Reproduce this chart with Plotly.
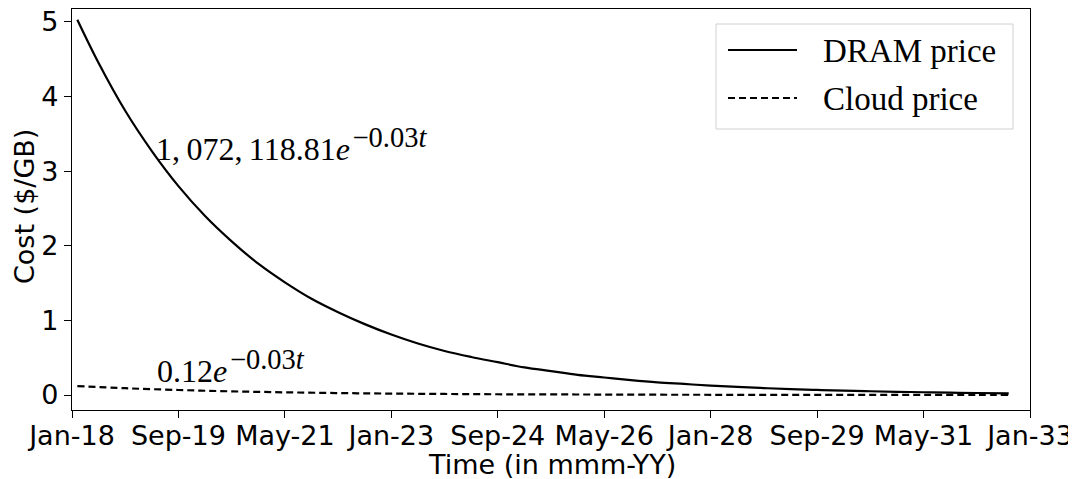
import plotly.graph_objects as go

# ---- data (months since Jan-18) ----
tick_months = [0, 20, 40, 60, 80, 100, 120, 140, 160, 180]
tick_labels = ["Jan-18", "Sep-19", "May-21", "Jan-23", "Sep-24",
               "May-26", "Jan-28", "Sep-29", "May-31", "Jan-33"]

dram_months = [1, 5, 10, 15, 20, 25, 30, 35, 40, 45, 50, 55, 60, 65, 70, 75, 80,
               85, 90, 95, 100, 105, 110, 115, 120, 125, 130, 135, 140, 145, 150,
               155, 160, 165, 170, 176]
dram_price = [5.03, 4.45, 3.81, 3.27, 2.80, 2.40, 2.06, 1.76, 1.51, 1.29, 1.11,
              0.95, 0.81, 0.69, 0.59, 0.51, 0.44, 0.37, 0.32, 0.27, 0.235, 0.20,
              0.17, 0.148, 0.126, 0.108, 0.093, 0.079, 0.068, 0.058, 0.050, 0.043,
              0.037, 0.031, 0.027, 0.022]

cloud_months = [1, 10, 20, 30, 40, 50, 60, 70, 80, 90, 100, 110, 120, 130, 140,
                150, 160, 170, 176]
cloud_price = [0.120, 0.091, 0.067, 0.049, 0.036, 0.026, 0.019, 0.014, 0.010,
               0.008, 0.006, 0.004, 0.003, 0.002, 0.0016, 0.0012, 0.0009,
               0.0006, 0.0005]

series_names = ["DRAM price", "Cloud price"]
y_ticks = [0, 1, 2, 3, 4, 5]

SANS = "DejaVu Sans"
SERIF = "Liberation Serif"

# The page places the figure 8px from the top-left corner (default body margin),
# so the figure is sized/positioned to land where the reference's axes are.
OFF = 8
W, H = 1068, 471
L, R, T, B = 64, 46, 1, 69
PW, PH = W - L - R, H - T - B


def px(x):  # screenshot pixel -> paper x
    return (x - OFF - L) / PW


def py(y):  # screenshot pixel -> paper y
    return (H - B - (y - OFF)) / PH


fig = go.Figure()
fig.add_trace(go.Scatter(x=dram_months, y=dram_price, mode="lines",
                         name=series_names[0], showlegend=False,
                         line=dict(color="black", width=2.2, shape="spline")))
fig.add_trace(go.Scatter(x=cloud_months, y=cloud_price, mode="lines",
                         name=series_names[1], showlegend=False,
                         line=dict(color="black", width=2.2, dash="7px,4px", shape="spline")))


def sup(s):
    return "<sup><span style='font-size:28.5px'>" + s + "</span></sup>"


fig.add_annotation(x=15.4, y=3.36, xref="x", yref="y", xanchor="left", yanchor="middle",
                   text="1,\u2009072,\u2009118.81<i>e</i>\u200a" + sup("\u22120.03<i>t</i>"),
                   showarrow=False, font=dict(family=SERIF, size=32, color="black"))
fig.add_annotation(x=15.6, y=0.38, xref="x", yref="y", xanchor="left", yanchor="middle",
                   text="0.12<i>e</i>\u200a" + sup("\u22120.03<i>t</i>"),
                   showarrow=False, font=dict(family=SERIF, size=32, color="black"))

# ---- legend box (drawn in paper coordinates) ----
fig.add_shape(type="rect", xref="paper", yref="paper",
              x0=px(716), x1=px(1013), y0=py(129), y1=py(24),
              line=dict(color="#d0d0d0", width=1), fillcolor="white", layer="above")
for i, (name, dash) in enumerate(zip(series_names, ["solid", "7px,4px"])):
    yy = 50 + 48 * i
    fig.add_shape(type="line", xref="paper", yref="paper",
                  x0=px(728), x1=px(797), y0=py(yy), y1=py(yy),
                  line=dict(color="black", width=2.2, dash=dash), layer="above")
    fig.add_annotation(x=px(821), y=py(yy + 1), xref="paper", yref="paper",
                       xanchor="left", yanchor="middle", text=name, showarrow=False,
                       font=dict(family=SERIF, size=33, color="black"))

# ---- axis titles ----
fig.add_annotation(x=px(552), y=py(464), xref="paper", yref="paper",
                   xanchor="center", yanchor="middle", text="Time (in mmm-YY)",
                   showarrow=False, font=dict(family=SANS, size=27, color="black"))
fig.add_annotation(x=px(24), y=py(207), xref="paper", yref="paper",
                   xanchor="center", yanchor="middle", text="Cost ($/GB)", textangle=-90,
                   showarrow=False, font=dict(family=SANS, size=27, color="black"))

fig.update_layout(
    width=W, height=H,
    margin=dict(l=L, r=R, t=T, b=B, autoexpand=False),
    paper_bgcolor="white", plot_bgcolor="white",
    font=dict(family=SANS, size=27, color="black"),
    showlegend=False,
    xaxis=dict(range=[0, 180], tickmode="array", tickvals=tick_months,
               ticktext=tick_labels, ticks="outside", ticklen=7, tickwidth=1.3,
               tickcolor="black", showline=True, linecolor="black", linewidth=1.3,
               mirror=True, showgrid=False, zeroline=False, ticklabelstandoff=-6,
               ticklabeloverflow="allow", tickfont=dict(size=27)),
    yaxis=dict(range=[-0.201, 5.174], tickmode="array", tickvals=y_ticks,
               ticks="outside", ticklen=7, tickwidth=1.3, tickcolor="black",
               showline=True, linecolor="black", linewidth=1.3, mirror=True,
               showgrid=False, zeroline=False, ticklabeloverflow="allow",
               tickfont=dict(size=27)),
)

fig.write_html("out.html")
